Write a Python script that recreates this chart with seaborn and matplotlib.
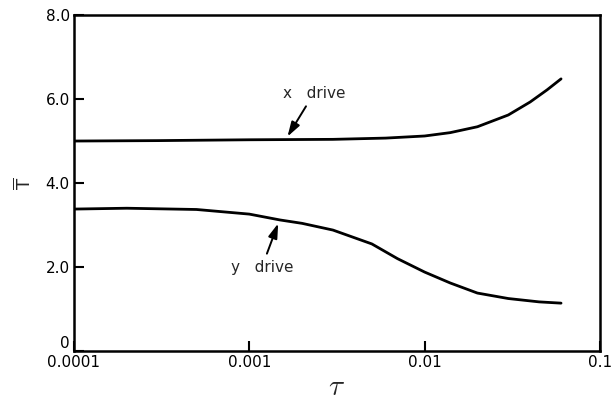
"""Mean T versus tau for x and y drive (log time axis)."""

import matplotlib

matplotlib.use("Agg")
import matplotlib.pyplot as plt
import pandas as pd
import seaborn as sns

# x drive curve
TAU_X = [0.0001, 0.0003, 0.001, 0.003, 0.006, 0.01, 0.014, 0.02, 0.03, 0.04, 0.05, 0.06]
TBAR_X = [5.0, 5.01, 5.03, 5.04, 5.07, 5.12, 5.2, 5.34, 5.62, 5.93, 6.22, 6.48]

# y drive curve
TAU_Y = [0.0001, 0.0002, 0.0005, 0.001, 0.0015, 0.002, 0.003, 0.005, 0.007,
         0.01, 0.014, 0.02, 0.03, 0.045, 0.06]
TBAR_Y = [3.38, 3.4, 3.37, 3.26, 3.12, 3.04, 2.88, 2.55, 2.2,
          1.88, 1.62, 1.38, 1.25, 1.17, 1.14]

X_TICKS = [0.0001, 0.001, 0.01, 0.1]
X_TICK_LABELS = ["0.0001", "0.001", "0.01", "0.1"]
Y_TICKS = [0, 2, 4, 6, 8]
Y_TICK_LABELS = ["0", "2.0", "4.0", "6.0", "8.0"]


def main() -> None:
    sns.set_theme(style="ticks")
    plt.rcParams["font.family"] = ["DejaVu Sans"]

    curves = pd.concat(
        [
            pd.DataFrame({"tau": TAU_X, "tbar": TBAR_X, "drive": "x"}),
            pd.DataFrame({"tau": TAU_Y, "tbar": TBAR_Y, "drive": "y"}),
        ],
        ignore_index=True,
    )

    fig = plt.figure(figsize=(6.13, 4.12), dpi=100)
    ax = fig.add_axes([0.1207, 0.148, 0.858, 0.8155])

    sns.lineplot(
        data=curves,
        x="tau",
        y="tbar",
        units="drive",
        estimator=None,
        color="black",
        linewidth=2.0,
        legend=False,
        ax=ax,
    )

    ax.set_xscale("log")
    ax.set_xlim(0.0001, 0.1)
    ax.set_ylim(0, 8)
    ax.set_xticks(X_TICKS)
    ax.set_xticklabels(X_TICK_LABELS)
    ax.set_yticks(Y_TICKS)
    ax.set_yticklabels(Y_TICK_LABELS)
    ax.minorticks_off()
    ax.tick_params(direction="in", length=7, width=1.5, labelsize=11, colors="black", pad=3)
    # the "0" sits just above the corner so it clears "0.0001"
    ax.get_yticklabels()[0].set_verticalalignment("bottom")
    for spine in ax.spines.values():
        spine.set_visible(True)
        spine.set_linewidth(1.8)
        spine.set_color("black")

    ax.set_xlabel(r"$\tau$", fontsize=21, labelpad=2, math_fontfamily="cm")
    ax.set_ylabel(r"$\overline{\mathsf{T}}$", fontsize=13, labelpad=8)

    arrow = dict(arrowstyle="-|>,head_length=0.8,head_width=0.25", color="black", lw=1.4)
    ax.annotate("x   drive", xy=(0.00162, 5.05), xytext=(0.00234, 6.14),
                ha="center", va="center", fontsize=11, arrowprops=arrow)
    ax.annotate("y   drive", xy=(0.00148, 3.1), xytext=(0.00118, 2.0),
                ha="center", va="center", fontsize=11, arrowprops=arrow)

    fig.savefig("out.png", dpi=100)
    plt.close(fig)


if __name__ == "__main__":
    main()
